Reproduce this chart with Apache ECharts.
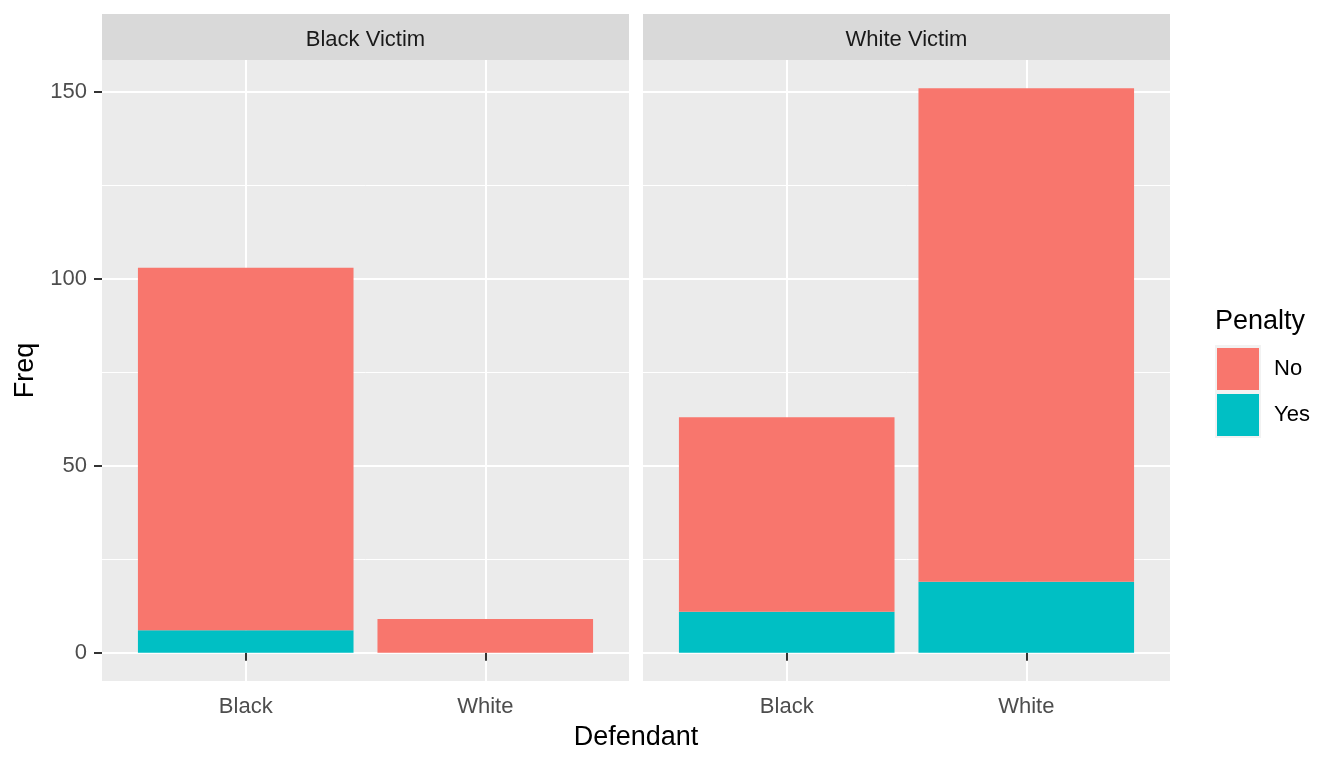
<!DOCTYPE html>
<html><head><meta charset="utf-8">
<script src="https://cdn.jsdelivr.net/npm/echarts@6/dist/echarts.min.js"></script>
<style>html,body{margin:0;padding:0;background:#fff}#c{width:1344px;height:768px}</style>
</head><body><div id="c"></div>
<script>
// ---- data ----
const victims = ['Black Victim', 'White Victim'];
const defendants = ['Black', 'White'];
const penaltyLevels = ['No', 'Yes'];
const noBlackVictim = [97, 9];
const yesBlackVictim = [6, 0];
const noWhiteVictim = [52, 132];
const yesWhiteVictim = [11, 19];
const yTicks = [0, 50, 100, 150];
const yMinorTicks = [25, 75, 125];

// ---- layout / style ----
const FONT = '"Liberation Sans", Arial, sans-serif';
const panels = [{left: 102, width: 527}, {left: 643, width: 527}];
const TOP = 60, HEIGHT = 621;
const yMin = -7.55, yMax = 158.55;
const COLORS = {No: '#F8766D', Yes: '#00BFC4'};
// ggplot discrete axis: 0.6 units of expansion each side, bars 0.9 units wide.
// Emulated with a boundaryGap:false category axis of 12 slots (11 steps = 2.2 units / 0.2).
const SLOTS = 12, SLOT_OF = [3, 8];
const barW = 0.9 * panels[0].width / 2.2;
const slotCats = Array.from({length: SLOTS}, (_, s) => {
  const k = SLOT_OF.indexOf(s);
  return k >= 0 ? defendants[k] : ' '.repeat(s + 1);
});
const isReal = (v) => defendants.indexOf(v) >= 0;
function slotData(values) {
  const arr = Array(SLOTS).fill('-');
  values.forEach((v, k) => { arr[SLOT_OF[k]] = v; });
  return arr;
}

const panelData = [
  {No: noBlackVictim, Yes: yesBlackVictim},
  {No: noWhiteVictim, Yes: yesWhiteVictim}
];

const chart = echarts.init(document.getElementById('c'), null, {renderer: 'canvas'});

const grids = panels.map(p => ({
  left: p.left, top: TOP, width: p.width, height: HEIGHT,
  show: true, backgroundColor: '#EBEBEB', borderWidth: 0
}));

const xAxes = panels.map((p, i) => ({
  type: 'category', gridIndex: i, data: slotCats, boundaryGap: false,
  axisLine: {show: false},
  axisTick: {show: true, interval: (idx, v) => isReal(v), length: 8, lineStyle: {color: '#333333', width: 2}},
  axisLabel: {
    interval: (idx, v) => isReal(v),
    color: '#4D4D4D', fontSize: 22, fontFamily: FONT, margin: 15
  },
  splitLine: {show: true, interval: (idx, v) => isReal(v), lineStyle: {color: '#FFFFFF', width: 2}}
}));

const yAxes = [];
panels.forEach((p, i) => {
  yAxes.push({
    type: 'value', gridIndex: i, min: yMin, max: yMax, position: 'left',
    axisLine: {show: false},
    axisTick: {show: i === 0, customValues: yTicks, length: 8, lineStyle: {color: '#333333', width: 2}},
    axisLabel: {show: i === 0, customValues: yTicks, color: '#4D4D4D', fontSize: 22, fontFamily: FONT, margin: 15, padding: [4, 0, 0, 0]},
    splitLine: {show: true, lineStyle: {color: '#FFFFFF', width: 2}}
  });
  yAxes.push({
    type: 'value', gridIndex: i, min: yMin, max: yMax, position: 'right',
    axisLine: {show: false},
    axisTick: {show: false, customValues: yMinorTicks},
    axisLabel: {show: false, customValues: yMinorTicks},
    splitLine: {show: true, lineStyle: {color: '#FFFFFF', width: 1}}
  });
});

const series = [];
panelData.forEach((pd, i) => {
  ['Yes', 'No'].forEach(lvl => {
    series.push({
      type: 'bar', name: lvl, xAxisIndex: i, yAxisIndex: i * 2, stack: 'p' + i,
      barWidth: barW,
      data: slotData(pd[lvl]),
      itemStyle: {color: COLORS[lvl]},
      emphasis: {disabled: true},
      z: 3
    });
  });
});

const graphic = [];
panels.forEach((p, i) => {
  graphic.push({type: 'rect', shape: {x: p.left, y: 14, width: p.width, height: 46}, style: {fill: '#D9D9D9'}, silent: true});
  graphic.push({type: 'text', x: p.left + p.width / 2, y: 40,
    style: {text: victims[i], fontSize: 22, fontFamily: FONT, fill: '#1A1A1A', align: 'center', verticalAlign: 'middle'}});
});
graphic.push({type: 'text', x: (panels[0].left + panels[1].left + panels[1].width) / 2, y: 738,
  style: {text: 'Defendant', fontSize: 27, fontFamily: FONT, fill: '#000', align: 'center', verticalAlign: 'middle'}});
graphic.push({type: 'text', x: 26, y: TOP + HEIGHT / 2, rotation: Math.PI / 2,
  style: {text: 'Freq', fontSize: 27, fontFamily: FONT, fill: '#000', align: 'center', verticalAlign: 'middle'}});
graphic.push({type: 'text', x: 1215, y: 322,
  style: {text: 'Penalty', fontSize: 27, fontFamily: FONT, fill: '#000', align: 'left', verticalAlign: 'middle'}});
graphic.push({type: 'rect', shape: {x: 1215, y: 345, width: 46, height: 93}, style: {fill: '#F2F2F2'}, z: -1});

chart.setOption({
  animation: false,
  backgroundColor: '#FFFFFF',
  grid: grids,
  xAxis: xAxes,
  yAxis: yAxes,
  series: series,
  legend: {
    data: penaltyLevels, orient: 'vertical', left: 1217, top: 348, padding: 0,
    itemWidth: 42, itemHeight: 42, itemGap: 4, icon: 'rect', selectedMode: false,
    textStyle: {fontSize: 22, fontFamily: FONT, color: '#000', padding: [4, 0, 0, 10]},
    z: 5
  },
  graphic: graphic
});
</script></body></html>
